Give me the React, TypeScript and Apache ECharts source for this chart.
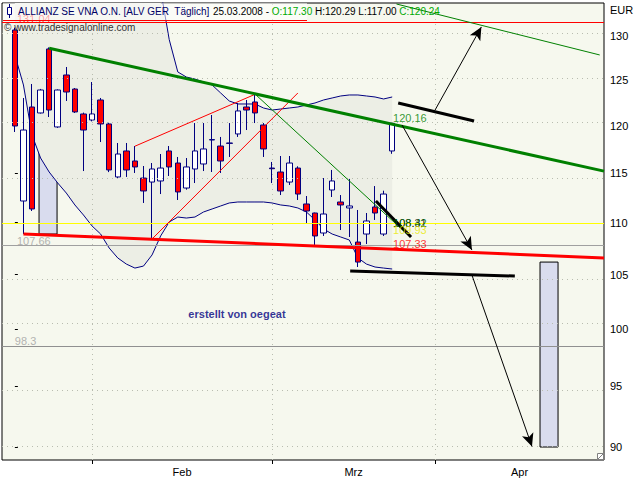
import { useEffect, useRef } from 'react';
import * as echarts from 'echarts';

// ---- data ----
const dates = [
  '21.01', '22.01', '23.01', '24.01', '25.01', '28.01', '29.01', '30.01', '31.01',
  '01.02', '04.02', '05.02', '06.02', '07.02', '08.02', '11.02', '12.02', '13.02', '14.02', '15.02',
  '18.02', '19.02', '20.02', '21.02', '22.02', '25.02', '26.02', '27.02', '28.02', '29.02',
  '03.03', '04.03', '05.03', '06.03', '07.03', '10.03', '11.03', '12.03', '13.03', '14.03',
  '17.03', '18.03', '19.03', '20.03', '25.03',
];
const openPrices = [
  130.72, 112.16, 122.01, 121.36, 128.52, 119.85, 125.56, 123.99, 121.25,
  120.6, 122.78, 120.17, 114.6, 117.3, 116.25, 114.49, 114.08, 114.19, 117.3, 116.04,
  113.47, 115.42, 115.94, 118.46, 117.82, 118.14, 119.1, 122.01, 122.56, 120.06,
  115.52, 115.11, 114.08, 115.52, 111.86, 110.96, 108.99, 113.27, 112.06, 111.46,
  108.11, 108.89, 111.56, 108.89, 117.3,
];
const closePrices = [
  119.95, 119.52, 111.36, 123.88, 121.68, 123.88, 123.66, 121.47, 119.52,
  121.25, 120.17, 115.32, 116.98, 115.32, 115.63, 113.17, 115.42, 115.52, 115.63, 113.07,
  115.63, 117.3, 117.51, 118.5, 116.25, 118.1, 121.58, 121.68, 121.36, 117.51,
  115.45, 113.17, 116.04, 112.86, 111.16, 108.7, 110.86, 114.19, 111.76, 111.66,
  106.19, 110.17, 110.96, 112.86, 120.24,
];
const lowPrices = [
  119.31, 108.89, 111.16, 121.3, 120.92, 119.75, 122.67, 121.36, 115.21,
  120.45, 118.24, 115.1, 114.49, 114.6, 115.01, 111.96, 108.41, 112.86, 114.7, 112.26,
  113.3, 113.98, 115.21, 115.11, 115.01, 116.67, 118.78, 119.52, 120.27, 116.67,
  113.98, 112.76, 113.78, 112.26, 109.97, 107.73, 108.7, 112.56, 109.28, 108.6,
  105.72, 107.92, 110.27, 108.7, 117.0,
];
const highPrices = [
  131.0, 123.0, 124.55, 124.0, 128.7, 123.95, 126.46, 124.1, 121.4,
  124.77, 123.0, 120.3, 118.14, 118.14, 117.82, 115.73, 116.04, 116.98, 117.82, 116.67,
  116.56, 120.27, 120.27, 121.14, 118.78, 120.27, 122.45, 122.78, 123.33, 120.27,
  116.15, 116.77, 116.77, 115.7, 112.66, 111.0, 114.49, 115.32, 112.76, 114.4,
  111.26, 110.96, 113.67, 113.2, 120.29,
];
const upperBand = [
  151.5, 150.3, 149.6, 148.2, 147.7, 146.4, 145.9, 144.5, 143.8, 142.6,
  141.9, 140.7, 139.8, 138.9, 137.6, 136.8, 136.2, 135.5, 129.6, 125.9,
  125.33, 125.1, 124.77, 124.44, 123.55, 122.67, 122.34, 122.34, 122.34, 121.9,
  121.68, 121.79, 121.9, 122.01, 122.23, 122.45, 122.78, 123.0, 123.22, 123.33,
  123.33, 123.22, 123.11, 122.89, 123.11,
];
const lowerBand = [
  127.83, 124.44, 118.99, 116.56, 115.11, 113.98, 112.96, 111.76, 110.76, 109.68,
  108.89, 107.53, 106.58, 106.0, 105.62, 105.81, 106.87, 108.7, 110.07, 110.56,
  110.46, 110.56, 111.06, 111.36, 111.66, 111.96, 112.06, 112.06, 112.06, 112.06,
  111.96, 111.76, 111.66, 111.46, 111.06, 110.27, 109.38, 108.89, 108.6, 108.31,
  106.58, 106.0, 105.72, 105.62, 105.53,
];
const priceTicks = [90, 95, 100, 105, 110, 115, 120, 125, 130];
const monthNames = ['Feb', 'Mrz', 'Apr'];
const monthStartIndex = [9, 30, 49];
const levelPrices = [131.04, 109.93, 107.66, 98.3];
const levelColors = ['#FF0000', '#FFFF00', '#A0A0A0', '#909090'];

// drawn trend lines: [[index, price], [index, price]]
const greenThickLines = [[[4, 128.6], [68.7, 115.2]]];
const greenThinLines = [
  [[28, 123.44], [46.1, 108.6]],
  [[44.5, 133.8], [68.2, 127.83]],
];
const redThickLines = [[[1, 108.89], [68.7, 106.58]]];
const redThinLines = [
  [[14, 117.8], [28, 123.4]],
  [[16, 108.41], [33, 123.55]],
];
const blackThickLines = [
  [[44.7, 122.45], [53.55, 120.49]],
  [[42.1, 112.16], [46.2, 108.6]],
  [[39.1, 105.34], [58.3, 104.87]],
];
const arrowLines = [
  [[49, 121.68], [54.4, 131.08]],
  [[45.15, 120.06], [53.3, 107.34]],
  [[53.3, 104.96], [60.3, 90.02]],
];
const highlightBoxes = [
  [[2.82, 128.52], [4.92, 108.89]],
  [[61.24, 106.19], [63.34, 89.98]],
];
const annotations = [
  { text: '120.16', at: [44.1, 120.81], color: '#008000' },
  { text: '108.31', at: [44.1, 109.97], color: '#000000' },
  { text: '108.42', at: [44.1, 109.97], color: '#006400' },
  { text: '109.93', at: [44.1, 109.28], color: '#E8E800' },
  { text: '107.33', at: [44.1, 107.92], color: '#FF0000' },
  { text: '131.04', at: [0.25, 132.02], color: '#FF0000' },
  { text: '107.66', at: [0.25, 108.21], color: '#A0A0A0' },
  { text: '98.3', at: [0.0, 98.93], color: '#A0A0A0' },
];

const PRICE_MIN = 88.94;
const PRICE_MAX = 133.92;
const X_MIN = -1.5;
const X_MAX = 68.7;
const FONT = 'Liberation Sans, Arial, sans-serif';

const L = (p: number) => Math.log(p);
const seg = (s: number[][]) => [
  { coord: [s[0][0], L(s[0][1])] },
  { coord: [s[1][0], L(s[1][1])] },
];

function lineSeries(lines: number[][][], color: string, width: number, arrows = false) {
  return {
    type: 'line',
    data: [],
    z: 5,
    silent: true,
    markLine: {
      silent: true,
      animation: false,
      symbol: arrows ? ['none', 'arrow'] : ['none', 'none'],
      symbolSize: arrows ? [9, 13] : 0,
      label: { show: false },
      emphasis: { disabled: true },
      lineStyle: { color, width, type: 'solid', opacity: 1 },
      data: lines.map(seg),
    },
  };
}

export default function App() {
  const ref = useRef<HTMLDivElement>(null);
  useEffect(() => {
    document.body.style.margin = '0';
    const chart = echarts.init(ref.current!, undefined, { renderer: 'svg' });
    const last = dates.length - 1;
    const labelPos = monthStartIndex.map((s, k) => (s + (k + 1 < monthStartIndex.length ? monthStartIndex[k + 1] : X_MAX)) / 2);

    const option: any = {
      animation: false,
      backgroundColor: '#FFFFFF',
      grid: {
        left: 2, right: 36, top: 3, bottom: 20,
        show: true, backgroundColor: '#F6F8EE', borderColor: '#000000', borderWidth: 1,
      },
      xAxis: {
        type: 'value', min: X_MIN, max: X_MAX,
        axisLine: { show: false },
        splitLine: { show: false },
        axisTick: { show: true, customValues: monthStartIndex, length: 4, lineStyle: { color: '#000' } },
        axisLabel: {
          customValues: labelPos,
          margin: 6,
          color: '#000', fontSize: 11, fontFamily: FONT,
          formatter: (v: number) => {
            let best = 0;
            labelPos.forEach((p, k) => { if (Math.abs(p - v) < Math.abs(labelPos[best] - v)) best = k; });
            return monthNames[best];
          },
        },
      },
      yAxis: {
        type: 'value', position: 'right', min: L(PRICE_MIN), max: L(PRICE_MAX), scale: true,
        axisLine: { show: false },
        splitLine: { show: false },
        axisTick: { show: true, customValues: priceTicks.map(L), length: 3, lineStyle: { color: '#000' } },
        axisLabel: {
          customValues: priceTicks.map(L),
          margin: 6,
          color: '#000', fontSize: 11, fontFamily: FONT,
          formatter: (v: number) => String(Math.round(Math.exp(v))),
        },
      },
      series: [
        // Bollinger band fill
        {
          type: 'custom', silent: true, z: 1,
          data: [[0, L(110)]],
          renderItem: (params: any, api: any) => {
            const cs = params.coordSys;
            const top = cs.y, bottom = cs.y + cs.height;
            const clampPt = (p: number[]) => [p[0], Math.min(Math.max(p[1], top), bottom)];
            const up = upperBand.map((v, k) => clampPt(api.coord([k, L(v)])));
            const lo = lowerBand.map((v, k) => clampPt(api.coord([k, L(v)]))).reverse();
            return { type: 'polygon', shape: { points: up.concat(lo) }, style: { fill: '#ECEEE5' } };
          },
        },
        // grid lines
        {
          type: 'line', data: [], z: 2, silent: true,
          markLine: {
            silent: true, animation: false, symbol: ['none', 'none'], label: { show: false },
            emphasis: { disabled: true },
            lineStyle: { color: '#B9BDB0', width: 1, type: [1, 4] },
            data: [
              ...priceTicks.map((p) => ({ yAxis: L(p) })),
              ...monthStartIndex.map((i) => ({ xAxis: i })),
            ],
          },
        },
        // highlight boxes
        {
          type: 'line', data: [], z: 2.5, silent: true,
          markArea: {
            silent: true, animation: false, label: { show: false },
            emphasis: { disabled: true },
            itemStyle: { color: '#D9DCEE', borderColor: '#000000', borderWidth: 1, opacity: 1 },
            data: highlightBoxes.map((b) => [
              { coord: [b[0][0], L(b[0][1])] },
              { coord: [b[1][0], L(b[1][1])] },
            ]),
          },
        },
        // Bollinger bands
        {
          type: 'line', z: 2.6, silent: true, symbol: 'none',
          data: upperBand.map((v, k) => [k, L(v)]),
          lineStyle: { color: '#000080', width: 1 },
        },
        {
          type: 'line', z: 2.6, silent: true, symbol: 'none',
          data: lowerBand.map((v, k) => [k, L(v)]),
          lineStyle: { color: '#000080', width: 1 },
        },
        // candles
        {
          type: 'candlestick', z: 3, silent: true,
          barWidth: 6,
          encode: { x: 0, y: [1, 2, 3, 4] },
          data: dates.map((_, k) => [k, L(openPrices[k]), L(closePrices[k]), L(lowPrices[k]), L(highPrices[k])]),
          itemStyle: {
            color: '#FFFFFF', color0: '#FF0000',
            borderColor: '#000080', borderColor0: '#000080', borderWidth: 1,
          },
        },
        // horizontal levels
        {
          type: 'line', data: [], z: 4, silent: true,
          markLine: {
            silent: true, animation: false, symbol: ['none', 'none'], label: { show: false },
            emphasis: { disabled: true },
            data: levelPrices.map((p, k) => ({ yAxis: L(p), lineStyle: { color: levelColors[k], width: 1, type: 'solid' } })),
          },
        },
        lineSeries(redThinLines, '#FF0000', 1),
        lineSeries(greenThinLines, '#008000', 1),
        lineSeries(redThickLines, '#FF0000', 3),
        lineSeries(greenThickLines, '#008000', 3),
        lineSeries(blackThickLines, '#000000', 3),
        lineSeries(arrowLines, '#000000', 1, true),
        // texts on the chart
        {
          type: 'scatter', z: 6, silent: true, symbolSize: 0,
          data: [
            ...annotations.map((a) => ({
              value: [a.at[0], L(a.at[1])],
              label: {
                show: true, formatter: a.text, position: 'right', distance: 0,
                color: a.color, fontSize: 11, fontFamily: FONT,
              },
            })),
            {
              value: [25.9, L(101.36)],
              label: {
                show: true, formatter: 'erstellt von oegeat', position: 'inside',
                color: '#000080', fontSize: 11, fontWeight: 'bold', fontFamily: FONT,
              },
            },
          ],
        },
      ],
      graphic: [
        { type: 'rect', z: 10, silent: true, shape: { x: 3, y: 3, width: 304, height: 17 }, style: { fill: 'rgba(255,255,255,0.55)' } },
        { type: 'line', z: 11, silent: true, shape: { x1: 3, y1: 20.5, x2: 307, y2: 20.5 }, style: { stroke: '#FF0000', lineWidth: 1 } },
        { type: 'line', z: 11, silent: true, shape: { x1: 9.5, y1: 4, x2: 9.5, y2: 18 }, style: { stroke: '#000080', lineWidth: 1 } },
        { type: 'rect', z: 11, silent: true, shape: { x: 7.5, y: 7.5, width: 4, height: 7 }, style: { fill: '#FFFFFF', stroke: '#000080', lineWidth: 1 } },
        {
          type: 'text', z: 11, silent: true, x: 18, y: 11,
          style: {
            text:
              '{n|ALLIANZ SE VNA O.N. [ALV GER  Täglich]} {k|25.03.2008 - }' +
              `{g|O:${openPrices[last].toFixed(2)}} {k|H:${highPrices[last].toFixed(2)} L:${lowPrices[last].toFixed(2)}} {g|C:${closePrices[last].toFixed(2)}}`,
            verticalAlign: 'middle',
            fontSize: 10, fontFamily: FONT,
            rich: {
              n: { fill: '#000066', fontSize: 10, fontFamily: FONT },
              k: { fill: '#000000', fontSize: 10, fontFamily: FONT },
              g: { fill: '#00AA00', fontSize: 10, fontFamily: FONT },
            },
          },
        },
        {
          type: 'text', z: 11, silent: true, x: 4, y: 27,
          style: { text: '© www.tradesignalonline.com', fill: '#333333', fontSize: 10, fontFamily: FONT, verticalAlign: 'middle' },
        },
        {
          type: 'text', z: 11, silent: true, x: 610, y: 10,
          style: { text: 'EUR', fill: '#000000', fontSize: 11, fontFamily: FONT, verticalAlign: 'middle' },
        },
        { type: 'rect', z: 11, silent: true, shape: { x: 597.5, y: 453.5, width: 6, height: 6 }, style: { fill: '#FFFFFF', stroke: '#808080', lineWidth: 1 } },
        { type: 'line', z: 11, silent: true, shape: { x1: 598, y1: 459, x2: 603, y2: 454 }, style: { stroke: '#808080', lineWidth: 1 } },
      ],
    };
    chart.setOption(option);
    return () => chart.dispose();
  }, []);
  return <div ref={ref} style={{ width: 640, height: 480 }} />;
}
